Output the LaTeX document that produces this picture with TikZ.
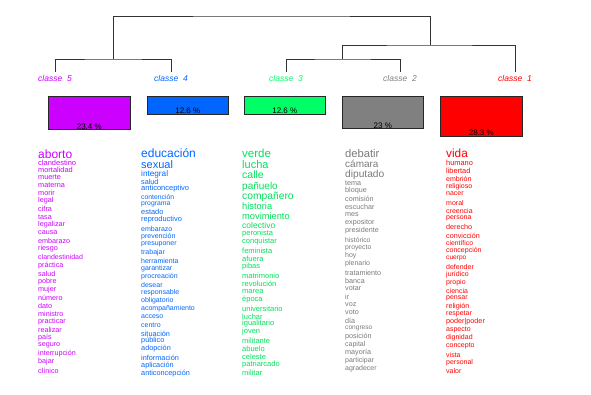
\documentclass[tikz,border=0pt]{standalone}
\usepackage{fontspec}
\setmainfont{Liberation Sans}
\usetikzlibrary{calc}

\definecolor{cl5}{HTML}{CC00FF}
\definecolor{cl4}{HTML}{0066FF}
\definecolor{cl3}{HTML}{00FF66}
\definecolor{cl2}{HTML}{808080}
\definecolor{cl1}{HTML}{FF0000}
\definecolor{txt3}{HTML}{00E05A}
\definecolor{txt2}{HTML}{7A7A7A}

\begin{document}
\begin{tikzpicture}[x=1pt, y=-1pt,
  branch/.style={draw=black!80, line width=0.6pt},
  classlabel/.style={font=\fontsize{8.5}{9}\selectfont\itshape, inner sep=0pt},
  pctbox/.style={draw=black!85, line width=0.6pt, anchor=north west, inner sep=0pt},
  pct/.style={font=\fontsize{8}{8}\selectfont, anchor=south, inner sep=0.3pt},
  word/.style={anchor=west, inner sep=0pt}]

  \useasboundingbox (0,0) rectangle (591,394);

  % Leaves of the tree
  \coordinate (c5) at (55,72);
  \coordinate (c4) at (171,72);
  \coordinate (c3) at (286,72);
  \coordinate (c2) at (400,72);
  \coordinate (c1) at (515,72);

  % Joints
  \coordinate (j54) at (113,59);
  \coordinate (j32) at (342,59);
  \coordinate (j321) at (430,45);
  \coordinate (top) at (271,16);

  \draw[branch] (c5) |- (j54) -| (c4);
  \draw[branch] (c3) |- (j32) -| (c2);
  \draw[branch] (j32) |- (j321) -| (c1);
  \draw[branch] (j54) |- (top) -| (j321);

  % Class labels
  \node[classlabel, text=cl5] (lab5) at (55,78) {classe~~5};
  \node[classlabel, text=cl4] (lab4) at (171,78) {classe~~4};
  \node[classlabel, text=cl3] (lab3) at (286,78) {classe~~3};
  \node[classlabel, text=cl2] (lab2) at (400,78) {classe~~2};
  \node[classlabel, text=cl1] (lab1) at (515,78) {classe~~1};

  % Percentage boxes
  \node[pctbox, fill=cl5, minimum width=82pt, minimum height=33pt] (box5) at (48,96) {};
  \node[pctbox, fill=cl4, minimum width=81pt, minimum height=17.6pt] (box4) at (147,96) {};
  \node[pctbox, fill=cl3, minimum width=81pt, minimum height=17.6pt] (box3) at (244,96) {};
  \node[pctbox, fill=cl2, minimum width=81pt, minimum height=32.3pt] (box2) at (342,96) {};
  \node[pctbox, fill=cl1, minimum width=82pt, minimum height=39.7pt] (box1) at (440,96) {};

  \node[pct] (p5) at (box5.south) {23.4 \%};
  \node[pct] (p4) at (box4.south) {12.6 \%};
  \node[pct] (p3) at (box3.south) {12.6 \%};
  \node[pct] (p2) at (box2.south) {23 \%};
  \node[pct] (p1) at (box1.south) {28.3 \%};

  % Words of classe 5
  \foreach \w/\y/\sz [count=\k] in {aborto/154/12, clandestino/162.5/7.5, mortalidad/169.8/7.4,
      muerte/177/7.3, materna/185/7.3, morir/193/7.3, legal/201/7.3, cifra/209/7.3,
      tasa/217.5/7.2, legalizar/225/7.2, causa/233/7.2, embarazo/241/7.2, riesgo/249/7.2,
      clandestinidad/257/7, práctica/265.5/7.2, salud/273.5/7.2, pobre/281.5/7.2,
      mujer/289.5/7.2, número/298/7.2, dato/306/7.2, ministro/314/7.2, practicar/322/7.2,
      realizar/330/7.2, país/338/7.2, seguro/345.5/7.2, interrupción/354/7.2, bajar/362/7.2,
      clínico/370.5/7.2}
    \node[word, text=cl5, font=\fontsize{\sz}{\sz}\selectfont] (w5-\k) at (38,\y) {\w};

  % Words of classe 4
  \foreach \w/\y/\sz [count=\k] in {educación/153.5/12, sexual/164.5/11, integral/174.5/8.2,
      salud/182/7.2, anticonceptivo/189/7.5, contención/197/6.8, programa/204/6.8,
      estado/212/7.4, reproductivo/220/7.4, embarazo/229/7, prevención/237/7,
      presuponer/244/7, trabajar/253/7, herramienta/261/7, garantizar/269/7,
      procreación/277/7, desear/285/7, responsable/293/7, obligatorio/301/7,
      acompañamiento/309/7, acceso/317/7, centro/325/7, situación/333.5/7.3,
      público/341/7.3, adopción/349/7.3, información/358/7.3, aplicación/366/7.3,
      anticoncepción/374/7.3}
    \node[word, text=cl4, font=\fontsize{\sz}{\sz}\selectfont] (w4-\k) at (141,\y) {\w};

  % Words of classe 3
  \foreach \w/\y/\sz [count=\k] in {verde/153/11.5, lucha/164.5/11, calle/175/10.5,
      pañuelo/186.5/10, compañero/196.5/10.3, historia/206.5/9.3, movimiento/216.5/9.3,
      colectivo/225/8.5, peronista/233.5/7.5, conquistar/242/7.5, feminista/250.5/7.5,
      afuera/258.5/7.5, pibas/267/7.5, matrimonio/276/7.5, revolución/284/7.5,
      marea/292/7.5, época/300/7.5, universitario/308.5/7.5, luchar/316.5/7.5,
      igualitario/324/7.5, joven/332/7.5, militante/340.5/7.5, abuelo/348.5/7.5,
      celeste/357/7.5, patriarcado/365/7.5, militar/373/7.5}
    \node[word, text=txt3, font=\fontsize{\sz}{\sz}\selectfont] (w3-\k) at (242,\y) {\w};

  % Words of classe 2
  \foreach \w/\y/\sz [count=\k] in {debatir/153/11.2, cámara/164/10, diputado/175/10.2,
      tema/183.5/7.2, bloque/191/7.2, comisión/199/7.2, escuchar/207/7.2, mes/215/7.2,
      expositor/223/7.2, presidente/231/7.2, histórico/240.5/6.8, proyecto/248/6.8,
      hoy/256/7, plenario/264/7, tratamiento/272.5/7.2, banca/280.5/7.2, votar/288.5/7.2,
      ir/297/7.2, voz/304.5/7.2, voto/312.5/7.2, día/321/7.2, congreso/328/6.6,
      posición/337/7.2, capital/344.5/7, mayoría/353/7.2, participar/360.5/7,
      agradecer/368.5/7}
    \node[word, text=txt2, font=\fontsize{\sz}{\sz}\selectfont] (w2-\k) at (345,\y) {\w};

  % Words of classe 1
  \foreach \w/\y/\sz [count=\k] in {vida/153/11.8, humano/162.5/7.4, libertad/171/7.4,
      embrión/179/7, religioso/186.5/7, nacer/194/7, moral/203/7, creencia/211/7,
      persona/218/7, derecho/227/7.2, convicción/236/7.2, científico/243.5/6.8,
      concepción/251/7, cuerpo/258/6.6, defender/267/7, jurídico/275/7, propio/283/7,
      ciencia/291/7, pensar/298.5/7, religión/307/7.2, respetar/314/7,
      poder|poder/322/7.2, aspecto/330/7, dignidad/338/7, concepto/346/7, vista/355/7,
      personal/363/7, valor/371/7}
    \node[word, text=cl1, font=\fontsize{\sz}{\sz}\selectfont] (w1-\k) at (446,\y) {\w};
\end{tikzpicture}
\end{document}
